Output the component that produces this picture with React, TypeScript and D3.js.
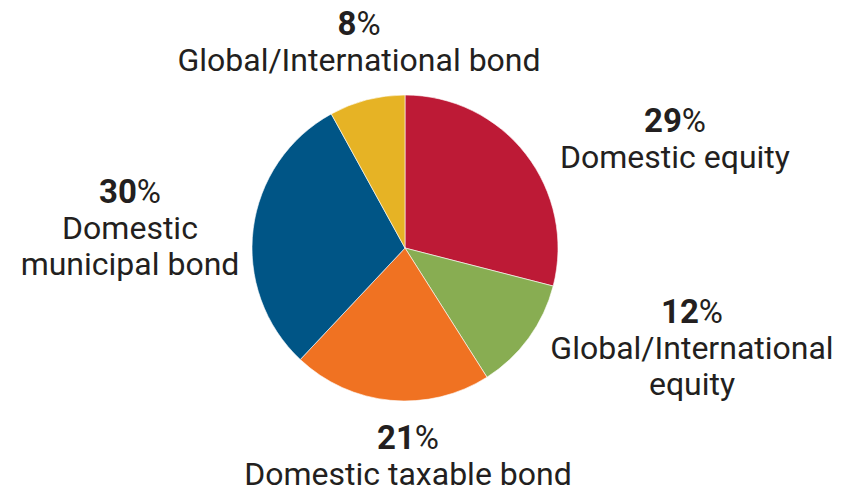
import React from 'react';
import * as d3 from 'd3';

const categories = [
  'Domestic equity',
  'Global/International equity',
  'Domestic taxable bond',
  'Domestic municipal bond',
  'Global/International bond',
];
const shares = [29, 12, 21, 30, 8];
const colors = ['#BD1A36', '#88AD52', '#F07222', '#005586', '#E6B325'];

// label lines, same order as categories
const labelLines = [
  ['Domestic equity'],
  ['Global/International', 'equity'],
  ['Domestic taxable bond'],
  ['Domestic', 'municipal bond'],
  ['Global/International bond'],
];
// label anchor (centre x, baseline of the percent line)
const labelPos = [
  [675, 132],
  [692, 323],
  [408, 449],
  [130, 203],
  [359, 35],
];

const width = 851;
const height = 493;
const cx = 405;
const cy = 248;
const radius = 153;
const lineGap = 36;

const App: React.FC = () => {
  const pie = d3
    .pie<number>()
    .sort(null)
    .value((d) => d)
    .startAngle(0)
    .endAngle(2 * Math.PI);
  const arcs = pie(shares);
  const arc = d3.arc<d3.PieArcDatum<number>>().innerRadius(0).outerRadius(radius);

  return (
    <svg
      width={width}
      height={height}
      style={{ position: 'absolute', left: 0, top: 0, background: '#fff' }}
      fontFamily="Roboto, 'Liberation Sans', sans-serif"
    >
      <g transform={`translate(${cx},${cy})`}>
        {arcs.map((a, i) => (
          <path
            key={categories[i]}
            d={arc(a) || ''}
            fill={colors[i]}
            stroke="#fff"
            strokeWidth={0.6}
          />
        ))}
      </g>
      {categories.map((c, i) => {
        const [x, y] = labelPos[i];
        return (
          <g key={c} fill="#231F20" textAnchor="middle">
            <text x={x} y={y} fontSize={33}>
              <tspan fontWeight={700}>{shares[i]}</tspan>
              <tspan fontWeight={400}>%</tspan>
            </text>
            {labelLines[i].map((line, j) => (
              <text key={line} x={x} y={y + lineGap * (j + 1)} fontSize={32}>
                {line}
              </text>
            ))}
          </g>
        );
      })}
    </svg>
  );
};

export default App;
